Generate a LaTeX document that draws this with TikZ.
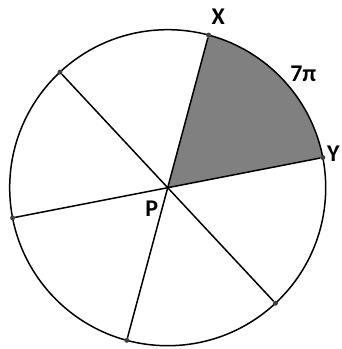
\documentclass[tikz,border=0pt]{standalone}
\usepackage{fontspec}
\setsansfont{Carlito}
\usetikzlibrary{calc,positioning}

\tikzset{
 dot/.style={circle, fill=black!75, inner sep=0pt, minimum size=5pt},
 lab/.style={font=\sffamily\bfseries\fontsize{24}{28}\selectfont, inner sep=0pt},
 rim/.style={black, line width=1.5pt}
}

\begin{document}
\begin{tikzpicture}[x=1pt, y=1pt]
 \useasboundingbox (0,0) rectangle (341,349);
 \coordinate (P) at (167.7,161.3);
 \fill[black!50] (P) -- ($(P)+(75:158)$) arc[start angle=75, end angle=11, radius=158] -- cycle;
 \draw[rim] (P) circle[radius=158];
 \node[dot] (X) at ($(P)+(75:158)$) {};
 \node[dot] (Y) at ($(P)+(11:158)$) {};
 \node[dot] (A) at ($(P)+(133:158)$) {};
 \node[dot] (B) at ($(P)+(191:158)$) {};
 \node[dot] (C) at ($(P)+(255:158)$) {};
 \node[dot] (D) at ($(P)+(313:158)$) {};
 \draw[rim] (X) -- (C);
 \draw[rim] (Y) -- (B);
 \draw[rim] (A) -- (D);
 \node[lab] (xl) at (218.3,332.3) {X};
 \node[lab] (yl) at (333.3,195.7) {Y};
 \node[lab] (pl) at (151.7,140.7) {P};
 \node[lab] (arc) at (303.3,275.7) {7π};
\end{tikzpicture}
\end{document}
